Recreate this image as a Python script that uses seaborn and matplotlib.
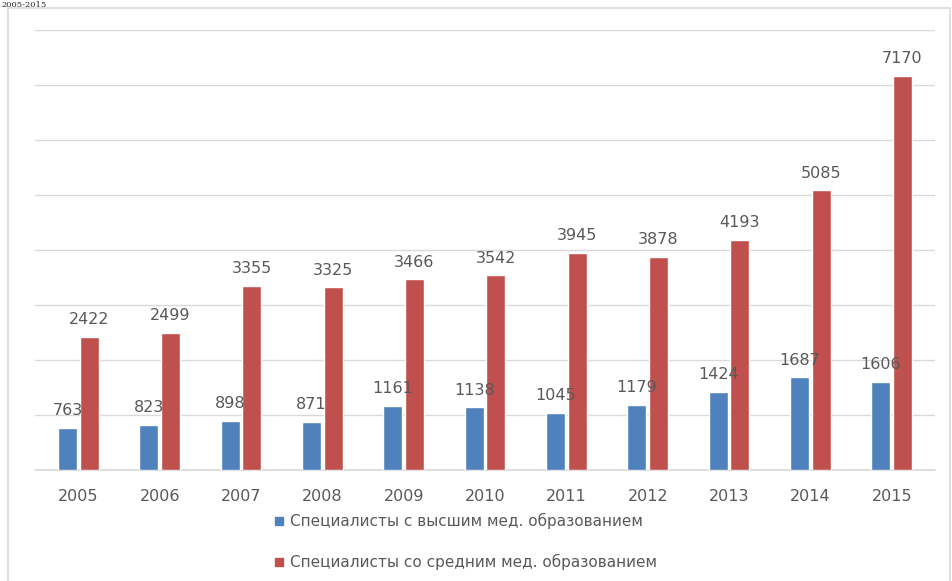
import matplotlib
matplotlib.use('Agg')
import matplotlib.pyplot as plt
from matplotlib.lines import Line2D
from matplotlib.patches import Rectangle
import seaborn as sns
import pandas as pd

# ========== данные ==========
years = ['2005', '2006', '2007', '2008', '2009', '2010',
         '2011', '2012', '2013', '2014', '2015']
higher_ed = [763, 823, 898, 871, 1161, 1138, 1045, 1179, 1424, 1687, 1606]
secondary_ed = [2422, 2499, 3355, 3325, 3466, 3542, 3945, 3878, 4193, 5085, 7170]
series_names = ['Специалисты с высшим мед. образованием',
                'Специалисты со средним мед. образованием']
colors = ['#4F81BD', '#C0504D']

df = pd.DataFrame({
    'year': years * 2,
    'value': higher_ed + secondary_ed,
    'series': [series_names[0]] * len(years) + [series_names[1]] * len(years),
})

sns.set_theme(style='white')
plt.rcParams['font.family'] = ['DejaVu Sans']

fig = plt.figure(figsize=(9.52, 5.81), dpi=100)
ax = fig.add_axes([0.037, 0.191, 0.945, 0.757])

sns.barplot(data=df, x='year', y='value', hue='series', palette=colors,
            width=0.53, gap=0.12, saturation=1, ax=ax, legend=False)

ax.set_ylim(0, 8000)
ax.set_xlim(-0.53, 10.53)
ax.set_yticks(range(0, 8001, 1000))
ax.yaxis.grid(True, color='#D9D9D9', linewidth=1)
ax.axhline(0, color='#D9D9D9', linewidth=1.2, clip_on=False, zorder=0)
ax.set_axisbelow(True)
ax.tick_params(axis='y', left=False, labelleft=False)
ax.tick_params(axis='x', bottom=False, labelsize=11.5, labelcolor='#595959', pad=8)
ax.set_xlabel('')
ax.set_ylabel('')
for s in ax.spines.values():
    s.set_visible(False)

for cont in ax.containers:
    ax.bar_label(cont, padding=7, fontsize=11.5, color='#595959')

handles = [Line2D([], [], marker='s', linestyle='none', color=c, markersize=6)
           for c in colors]
fig.legend(handles, series_names, loc='upper left', bbox_to_anchor=(0.277, 0.13),
           frameon=False, fontsize=11, labelcolor='#595959', labelspacing=1.6,
           handletextpad=0.2, handlelength=1.0, borderpad=0)

# рамка области диаграммы
fig.patches.append(Rectangle((8 / 952, -0.01), 0.99, 1 - 8 / 581 + 0.01,
                             transform=fig.transFigure, fill=False,
                             edgecolor='#D9D9D9', linewidth=1.2))
fig.text(0.002, 0.999, '2005-2015', fontsize=6, family='DejaVu Serif',
         va='top', ha='left')

fig.savefig('out.png', dpi=100)
